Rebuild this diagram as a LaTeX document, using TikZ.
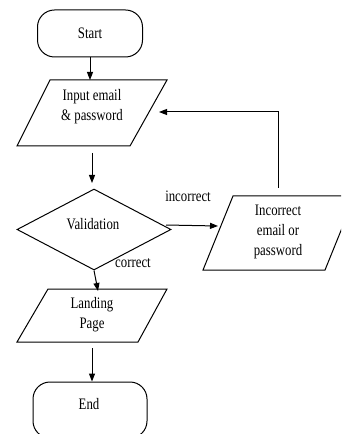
\documentclass[tikz,border=0pt]{standalone}
\usepackage{fontspec}
\setmainfont{Liberation Serif}[FakeStretch=0.8]
\usetikzlibrary{arrows.meta,shapes.geometric}
\begin{document}
\begin{tikzpicture}[x=1pt,y=-1pt,
  txt/.style={font=\fontsize{16}{20}\selectfont, align=center, inner sep=0pt},
  term/.style={draw, line width=1pt, rounded corners=17pt, minimum width=105pt, minimum height=47pt, txt},
  dec/.style={draw, line width=1pt, diamond, minimum width=154pt, minimum height=81pt, inner sep=0pt},
  shp/.style={line width=1pt, line join=miter},
  conn/.style={-{Triangle[length=8pt,width=6pt]}, line width=1pt}]
\useasboundingbox (0,0) rectangle (341,435);
\clip (0,0) rectangle (341,433);
% terminals
\node[term] (start) at (90,33.5) {Start};
\node[term, minimum width=114pt, minimum height=56pt] (end) at (90,410) {};
\node[txt] (endtxt) at (89,404) {End};
% input parallelogram
\draw[shp] (50,80) -- (167,80) -- (130,146) -- (17,146) -- cycle;
\node[txt] (input) at (92,107) {Input email\\\& password};
\coordinate (inT) at (90,80);
\coordinate (inB) at (92,153);
\coordinate (inR) at (159,112);
% decision
\node[dec] (val) at (94,229.5) {};
\node[txt] (valtxt) at (93,224) {Validation};
\coordinate (valT) at (92,183);
\coordinate (valR) at (166,225);
% incorrect parallelogram
\draw[shp] (233,196) -- (355,196) -- (325,270) -- (203,270) -- cycle;
\node[txt] (inc) at (278,232) {Incorrect\\email or\\password};
\coordinate (incL) at (218,226);
\coordinate (incT) at (278,188);
% landing parallelogram
\draw[shp] (48,289) -- (167,289) -- (138,342) -- (17,342) -- cycle;
\node[txt] (land) at (92,315) {Landing\\Page};
\coordinate (landT) at (98,291);
\coordinate (landB) at (92,348);
% labels
\node[txt] (lblinc) at (188,196) {incorrect};
\node[txt] (lblcor) at (133,263) {correct};
% connectors
\draw[conn] (start) -- (inT);
\draw[conn] (inB) -- (valT);
\draw[conn] (valR) -- (incL);
\draw[conn] (val.south) -- (landT);
\draw[conn] (landB) -- (landB |- end.north);
\draw[conn] (incT) |- (inR);
\end{tikzpicture}
\end{document}
